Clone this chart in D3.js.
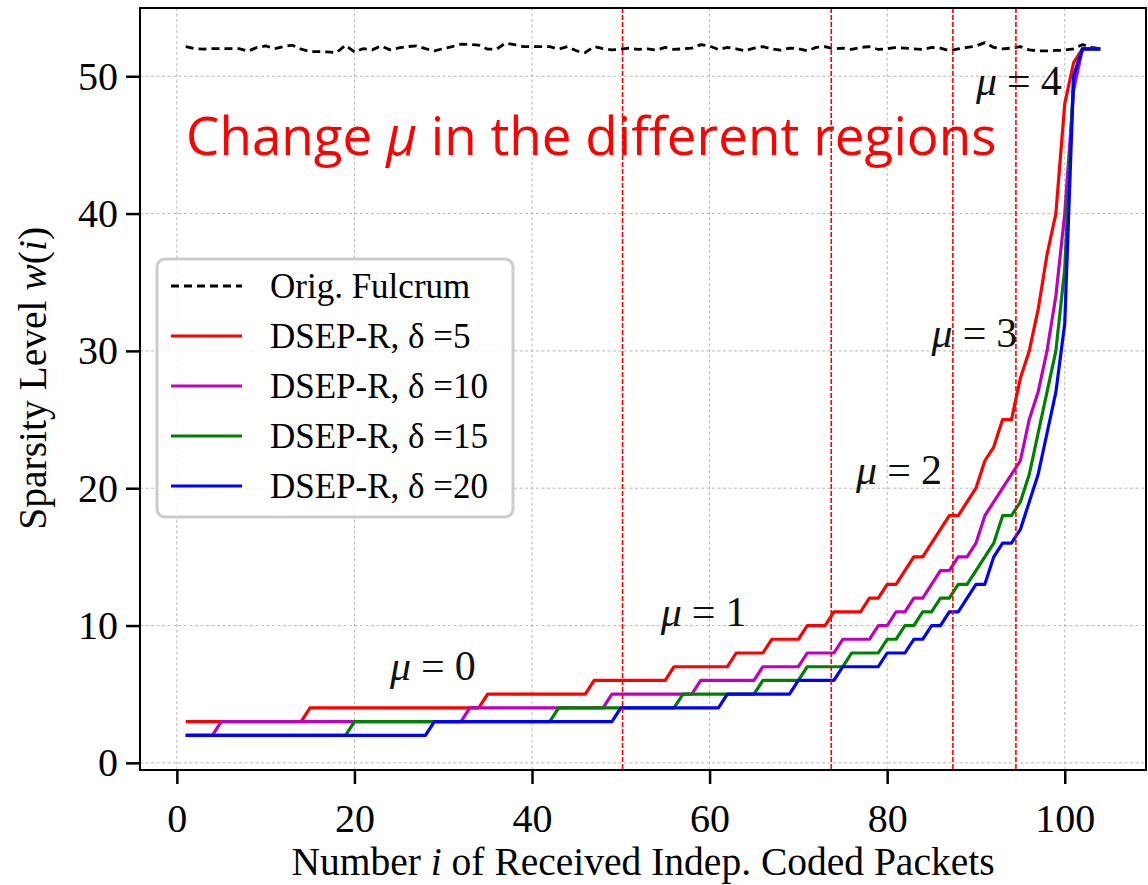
<!DOCTYPE html>
<html>
<head>
<meta charset="utf-8">
<script src="https://cdn.jsdelivr.net/npm/d3@7"></script>
<style>
  body { margin: 0; background: #fff; }
  svg { display: block; }
</style>
</head>
<body>
<div id="chart"></div>
<script>
// x values: number i of received packets
const packets = d3.range(1, 105);

const fulcrum = [
  52.16, 52.01, 51.97, 52.01, 52.01, 52.01, 52.01, 51.82, 52.09, 52.21,
  52.01, 52.16, 52.26, 51.97, 51.80, 51.80, 51.77, 51.73, 52.26, 51.77,
  52.01, 51.92, 52.21, 51.92, 52.06, 52.16, 52.21, 52.01, 51.85, 52.01,
  52.16, 52.33, 52.31, 52.26, 51.97, 51.97, 52.41, 52.31, 52.16, 52.16,
  52.16, 52.16, 51.97, 52.16, 51.85, 51.73, 52.16, 52.01, 51.92, 51.97,
  52.05, 51.95, 52.00, 51.90, 52.10, 51.95, 52.00, 52.05, 52.30, 52.20,
  51.95, 52.10, 52.00, 51.85, 52.05, 52.15, 52.00, 51.90, 52.05, 52.00,
  51.85, 52.10, 52.15, 52.00, 52.05, 51.95, 52.10, 52.15, 51.95, 52.00,
  52.10, 52.05, 52.00, 51.95, 52.10, 52.05, 51.85, 52.00, 52.10, 52.20,
  52.45, 52.10, 52.00, 52.05, 52.16, 51.92, 51.85, 51.85, 51.88, 51.90,
  52.00, 52.30, 52.10, 52.00
];

const dsep5 = [
  3, 3, 3, 3, 3, 3, 3, 3, 3, 3,
  3, 3, 3, 3, 4, 4, 4, 4, 4, 4,
  4, 4, 4, 4, 4, 4, 4, 4, 4, 4,
  4, 4, 4, 4, 5, 5, 5, 5, 5, 5,
  5, 5, 5, 5, 5, 5, 6, 6, 6, 6,
  6, 6, 6, 6, 6, 7, 7, 7, 7, 7,
  7, 7, 8, 8, 8, 8, 9, 9, 9, 9,
  10, 10, 10, 11, 11, 11, 11, 12, 12, 13,
  13, 14, 15, 15, 16, 17, 18, 18, 19, 20,
  22, 23, 25, 25, 28, 30, 33, 37, 40, 48,
  51, 52, 52, 52
];

const dsep10 = [
  2, 2, 2, 2, 3, 3, 3, 3, 3, 3,
  3, 3, 3, 3, 3, 3, 3, 3, 3, 3,
  3, 3, 3, 3, 3, 3, 3, 3, 3, 3,
  3, 3, 4, 4, 4, 4, 4, 4, 4, 4,
  4, 4, 4, 4, 4, 4, 4, 4, 5, 5,
  5, 5, 5, 5, 5, 5, 5, 5, 6, 6,
  6, 6, 6, 6, 6, 7, 7, 7, 7, 7,
  8, 8, 8, 8, 9, 9, 9, 9, 10, 10,
  11, 11, 12, 12, 13, 14, 14, 15, 15, 16,
  18, 19, 20, 21, 22, 25, 27, 30, 34, 40,
  49, 52, 52, 52
];

const dsep15 = [
  2, 2, 2, 2, 2, 2, 2, 2, 2, 2,
  2, 2, 2, 2, 2, 2, 2, 2, 2, 3,
  3, 3, 3, 3, 3, 3, 3, 3, 3, 3,
  3, 3, 3, 3, 3, 3, 3, 3, 3, 3,
  3, 3, 4, 4, 4, 4, 4, 4, 4, 4,
  4, 4, 4, 4, 4, 4, 5, 5, 5, 5,
  5, 5, 5, 5, 5, 6, 6, 6, 6, 6,
  7, 7, 7, 7, 7, 8, 8, 8, 8, 9,
  9, 10, 10, 11, 11, 12, 12, 13, 13, 14,
  15, 16, 18, 18, 19, 21, 24, 27, 30, 36,
  50, 52, 52, 52
];

const dsep20 = [
  2, 2, 2, 2, 2, 2, 2, 2, 2, 2,
  2, 2, 2, 2, 2, 2, 2, 2, 2, 2,
  2, 2, 2, 2, 2, 2, 2, 2, 3, 3,
  3, 3, 3, 3, 3, 3, 3, 3, 3, 3,
  3, 3, 3, 3, 3, 3, 3, 3, 3, 4,
  4, 4, 4, 4, 4, 4, 4, 4, 4, 4,
  4, 5, 5, 5, 5, 5, 5, 5, 5, 6,
  6, 6, 6, 6, 7, 7, 7, 7, 7, 8,
  8, 8, 9, 9, 10, 10, 11, 11, 12, 13,
  13, 15, 16, 16, 17, 19, 21, 24, 27, 32,
  50, 52, 52, 52
];

const seriesLabels = ["Orig. Fulcrum", "DSEP-R, δ =5", "DSEP-R, δ =10", "DSEP-R, δ =15", "DSEP-R, δ =20"];
const seriesColors = ["#000000", "#ff0000", "#bf00bf", "#008000", "#0000ff"];
const seriesValues = [fulcrum, dsep5, dsep10, dsep15, dsep20];

const xTicks = [0, 20, 40, 60, 80, 100];
const yTicks = [0, 10, 20, 30, 40, 50];

// region boundaries (red dashed verticals) and mu annotations
const regionBounds = [50.2, 73.7, 87.4, 94.5];
const muValues = ["0", "1", "2", "3", "4"];
const muX = [24, 54.5, 76.5, 85, 90];
const muY = [6, 10, 20.3, 30.3, 48.6];

const width = 1148, height = 885;
const margin = { top: 8, right: 2, bottom: 115, left: 140 };
const innerWidth = width - margin.left - margin.right;
const innerHeight = height - margin.top - margin.bottom;

const serif = "Liberation Serif, Times New Roman, serif";

const xScale = d3.scaleLinear().domain([-4.15, 109.15]).range([0, innerWidth]);
const yScale = d3.scaleLinear().domain([-0.52, 54.97]).range([innerHeight, 0]);

const svg = d3.select("#chart").append("svg")
  .attr("width", width)
  .attr("height", height)
  .style("background", "#fff");

const chart = svg.append("g")
  .attr("transform", `translate(${margin.left}, ${margin.top})`);

// grid
chart.append("g")
  .selectAll("line")
  .data(xTicks)
  .join("line")
  .attr("x1", d => xScale(d)).attr("x2", d => xScale(d))
  .attr("y1", 0).attr("y2", innerHeight)
  .attr("stroke", "#b0b0b0").attr("stroke-width", 0.9)
  .attr("stroke-dasharray", "3,2.5");

chart.append("g")
  .selectAll("line")
  .data(yTicks)
  .join("line")
  .attr("x1", 0).attr("x2", innerWidth)
  .attr("y1", d => yScale(d)).attr("y2", d => yScale(d))
  .attr("stroke", "#b0b0b0").attr("stroke-width", 0.9)
  .attr("stroke-dasharray", "3,2.5");

// series lines
const line = d3.line()
  .x((d, i) => xScale(packets[i]))
  .y(d => yScale(d));

seriesValues.forEach((vals, k) => {
  chart.append("path")
    .datum(vals)
    .attr("fill", "none")
    .attr("stroke", seriesColors[k])
    .attr("stroke-width", k === 0 ? 2.8 : 3.2)
    .attr("stroke-dasharray", k === 0 ? "8,5" : null)
    .attr("stroke-linejoin", "round")
    .attr("d", line);
});

// region boundaries
chart.append("g")
  .selectAll("line")
  .data(regionBounds)
  .join("line")
  .attr("x1", d => xScale(d)).attr("x2", d => xScale(d))
  .attr("y1", 0).attr("y2", innerHeight)
  .attr("stroke", "#ff0000").attr("stroke-width", 1.6)
  .attr("stroke-dasharray", "5,2");

// mu labels
muValues.forEach((m, k) => {
  const t = chart.append("text")
    .attr("x", xScale(muX[k]))
    .attr("y", yScale(muY[k]))
    .attr("font-family", serif)
    .attr("font-size", 42)
    .attr("fill", "#111");
  t.append("tspan").attr("font-style", "italic").text("μ");
  t.append("tspan").attr("dx", 10).text("=");
  t.append("tspan").attr("dx", 10).text(m);
});

// axes
const xAxis = d3.axisBottom(xScale).tickValues(xTicks).tickSize(14).tickPadding(20);
const yAxis = d3.axisLeft(yScale).tickValues(yTicks).tickSize(14).tickPadding(8);

const gx = chart.append("g")
  .attr("transform", `translate(0, ${innerHeight})`)
  .call(xAxis);
const gy = chart.append("g").call(yAxis);

[gx, gy].forEach(g => {
  g.select(".domain").remove();
  g.selectAll(".tick line").attr("stroke", "#000").attr("stroke-width", 2.5);
  g.selectAll(".tick text")
    .attr("font-family", serif)
    .attr("font-size", 40)
    .attr("fill", "#000");
});

// frame
chart.append("rect")
  .attr("width", innerWidth).attr("height", innerHeight)
  .attr("fill", "none").attr("stroke", "#000").attr("stroke-width", 2);

// axis labels
const xl = svg.append("text")
  .attr("x", 643)
  .attr("y", 875)
  .attr("text-anchor", "middle")
  .attr("font-family", serif)
  .attr("font-size", 39.5)
  .attr("fill", "#000");
xl.append("tspan").text("Number ");
xl.append("tspan").attr("font-style", "italic").text("i");
xl.append("tspan").text(" of Received Indep. Coded Packets");

const yl = svg.append("text")
  .attr("transform", `translate(46, ${margin.top + yScale(28)}) rotate(-90)`)
  .attr("text-anchor", "middle")
  .attr("font-family", serif)
  .attr("font-size", 39.5)
  .attr("fill", "#000");
yl.append("tspan").text("Sparsity Level ");
yl.append("tspan").attr("font-style", "italic").text("w");
yl.append("tspan").text("(");
yl.append("tspan").attr("font-style", "italic").text("i");
yl.append("tspan").text(")");

// legend
const legend = svg.append("g").attr("transform", "translate(157, 259)");
legend.append("rect")
  .attr("width", 356).attr("height", 258)
  .attr("rx", 8)
  .attr("fill", "#fff").attr("fill-opacity", 0.85)
  .attr("stroke", "#cccccc").attr("stroke-width", 3);

const rowY = d3.scalePoint().domain(d3.range(seriesLabels.length)).range([27, 227]);
seriesLabels.forEach((lab, k) => {
  const y = rowY(k);
  legend.append("line")
    .attr("x1", 14).attr("x2", 85)
    .attr("y1", y).attr("y2", y)
    .attr("stroke", seriesColors[k])
    .attr("stroke-width", k === 0 ? 2.8 : 3)
    .attr("stroke-dasharray", k === 0 ? "8,5" : null);
  legend.append("text")
    .attr("x", 113).attr("y", y)
    .attr("dy", "0.35em")
    .attr("font-family", serif)
    .attr("font-size", 35)
    .attr("fill", "#000")
    .text(lab);
});

// red overlay annotation
const note = svg.append("text")
  .attr("x", 186).attr("y", 155)
  .attr("font-family", "Open Sans, Noto Sans, sans-serif")
  .attr("font-size", 53)
  .attr("fill", "#ff0000");
note.append("tspan").text("Change ");
note.append("tspan").attr("font-style", "italic").text("μ");
note.append("tspan").text(" in the different regions");
</script>
</body>
</html>
